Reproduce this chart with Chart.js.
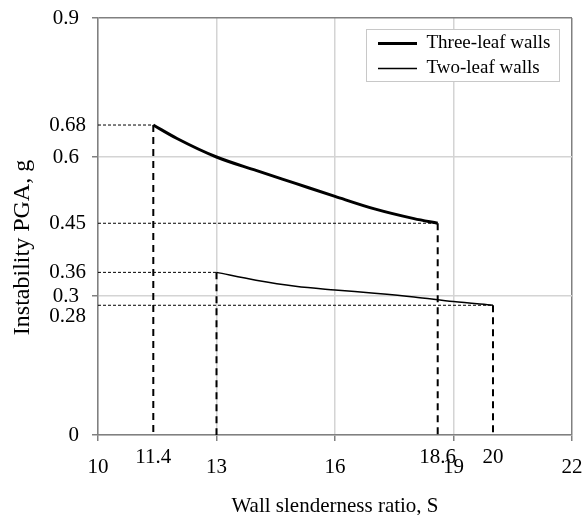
<!DOCTYPE html>
<html>
<head>
<meta charset="utf-8">
<script src="https://cdn.jsdelivr.net/npm/chart.js@4.4.1/dist/chart.umd.min.js"></script>
<style>
  html, body { margin: 0; padding: 0; background: #fff; }
  canvas { display: block; }
</style>
</head>
<body>
<canvas id="pgaChart" width="583" height="515"></canvas>
<script>
// values
const seriesNames = ['Three-leaf walls', 'Two-leaf walls'];
const slendernessThree = [11.4, 12, 13, 14, 15, 16, 17, 18, 18.6];
const pgaThree = [0.669, 0.640, 0.600, 0.571, 0.543, 0.515, 0.488, 0.467, 0.457];
const slendernessTwo = [13, 14, 15, 16, 17, 18, 19, 20];
const pgaTwo = [0.351, 0.334, 0.321, 0.313, 0.306, 0.298, 0.288, 0.280];

const xTicks = [10, 13, 16, 19, 22];
const yTicks = [0, 0.3, 0.6, 0.9];
// printed values for the end points (three start, three end, two start, two end)
const endLabels = ['0.68', '0.45', '0.36', '0.28'];

const FONT = "'Liberation Serif', 'Times New Roman', serif";
const GRID = '#d4d4d4';
const FRAME = '#808080';

const ends = [
    [slendernessThree[0], pgaThree[0]],
    [slendernessThree[slendernessThree.length - 1], pgaThree[pgaThree.length - 1]],
    [slendernessTwo[0], pgaTwo[0]],
    [slendernessTwo[slendernessTwo.length - 1], pgaTwo[pgaTwo.length - 1]]
];
const xNotes = ends.map(e => e[0]).filter(v => !xTicks.includes(v));
const yNotes = ends.map(e => e[1]);

function toPoints(xs, ys) {
    return xs.map((x, i) => ({x: x, y: ys[i]}));
}

const guideSets = [];
ends.forEach(function (e) {
    guideSets.push({
        data: [{x: e[0], y: e[1]}, {x: e[0], y: 0}],
        borderColor: '#000', borderWidth: 2, borderDash: [7, 5], pointRadius: 0
    });
    guideSets.push({
        data: [{x: xTicks[0], y: e[1]}, {x: e[0], y: e[1]}],
        borderColor: '#000', borderWidth: 1, borderDash: [3, 2], pointRadius: 0
    });
});

Chart.defaults.font.family = FONT;
Chart.defaults.font.size = 21;
Chart.defaults.color = '#000';

const frameExtras = {
    id: 'frameExtras',
    afterLayout(chart) {
        const lg = chart.legend;
        const ca = chart.chartArea;
        const w = lg.width;
        lg.left = ca.right - 200;
        lg.right = lg.left + w;
        lg.top = ca.top + 10;
        lg.bottom = lg.top + lg.height;
    },
    afterDraw(chart) {
        const ctx = chart.ctx;
        const ca = chart.chartArea;
        const boxes = chart.legend.legendHitBoxes;
        if (boxes && boxes.length) {
            const l = Math.min(...boxes.map(b => b.left)) - 12.5;
            const t = Math.min(...boxes.map(b => b.top)) - 5;
            const r = Math.max(...boxes.map(b => b.left + b.width)) + 8;
            const b = Math.max(...boxes.map(b => b.top + b.height)) + 3;
            ctx.save();
            ctx.fillStyle = '#fff';
            ctx.fillRect(l, t, r - l, b - t);
            ctx.strokeStyle = '#c8c8c8';
            ctx.lineWidth = 1;
            ctx.strokeRect(Math.round(l) + 0.5, Math.round(t) + 0.5, Math.round(r - l), Math.round(b - t));
            ctx.restore();
            chart.legend.draw();
        }
        // y axis title, sitting a little below the middle as in the figure
        ctx.save();
        ctx.font = '24px ' + FONT;
        ctx.fillStyle = '#000';
        ctx.textAlign = 'center';
        ctx.textBaseline = 'middle';
        ctx.translate(ca.left - 75, (ca.top + ca.bottom) / 2 + 21);
        ctx.rotate(-Math.PI / 2);
        ctx.fillText('Instability PGA, g', 0, 0);
        ctx.restore();
    }
};

new Chart(document.getElementById('pgaChart'), {
    type: 'line',
    data: {
        datasets: [
            {
                label: seriesNames[0],
                data: toPoints(slendernessThree, pgaThree),
                borderColor: '#000', borderWidth: 3, pointRadius: 0,
                cubicInterpolationMode: 'monotone'
            },
            {
                label: seriesNames[1],
                data: toPoints(slendernessTwo, pgaTwo),
                borderColor: '#000', borderWidth: 1.5, pointRadius: 0,
                cubicInterpolationMode: 'monotone'
            }
        ].concat(guideSets)
    },
    options: {
        responsive: false,
        animation: false,
        layout: {padding: {left: 0, right: 11, top: 18, bottom: 0}},
        scales: {
            x: {
                type: 'linear',
                min: xTicks[0],
                max: xTicks[xTicks.length - 1],
                afterBuildTicks: function (scale) {
                    scale.ticks = xTicks.concat(xNotes).sort((a, b) => a - b).map(v => ({value: v}));
                },
                afterFit: function (scale) {
                    scale.height = 80;
                    scale.paddingRight = 0;
                },
                grid: {
                    color: c => c.tick && xTicks.includes(c.tick.value)
                        ? (c.tick.value === xTicks[xTicks.length - 1] ? FRAME : GRID) : 'transparent',
                    tickColor: c => c.tick && xTicks.includes(c.tick.value) ? FRAME : 'transparent',
                    lineWidth: 1.5,
                    tickLength: 6
                },
                border: {color: FRAME, width: 1.5},
                ticks: {
                    autoSkip: false,
                    maxRotation: 0,
                    padding: 6,
                    font: c => ({
                        size: 21,
                        family: FONT,
                        lineHeight: c.tick && xTicks.includes(c.tick.value) ? '40px' : '20px'
                    }),
                    callback: value => String(value)
                },
                title: {
                    display: true,
                    text: 'Wall slenderness ratio, S',
                    font: {size: 21, lineHeight: '18px'},
                    padding: {top: 0, bottom: 0}
                }
            },
            y: {
                min: yTicks[0],
                max: yTicks[yTicks.length - 1],
                afterBuildTicks: function (scale) {
                    scale.ticks = yTicks.concat(yNotes).sort((a, b) => a - b).map(v => ({value: v}));
                },
                afterFit: function (scale) { scale.width = 98; },
                grid: {
                    color: c => c.tick && yTicks.includes(c.tick.value)
                        ? (c.tick.value === yTicks[yTicks.length - 1] ? FRAME : GRID) : 'transparent',
                    tickColor: c => c.tick && yTicks.includes(c.tick.value) ? FRAME : 'transparent',
                    lineWidth: 1.5,
                    tickLength: 6
                },
                border: {color: FRAME, width: 1.5},
                ticks: {
                    autoSkip: false,
                    padding: 6,
                    font: {size: 21, lineHeight: '22px'},
                    callback: function (value) {
                        if (yTicks.includes(value)) return String(value) + '\u2006\u2006';
                        const i = yNotes.indexOf(value);
                        const text = endLabels[i];
                        // push the label down when it would sit on top of a major tick label
                        const crowded = yTicks.some(t => t > value && t - value < 0.03);
                        return crowded ? ['', text] : text;
                    }
                }
            }
        },
        plugins: {
            legend: {
                position: 'chartArea',
                align: 'start',
                labels: {
                    font: {size: 19},
                    padding: 6,
                    usePointStyle: true,
                    pointStyleWidth: 39,
                    generateLabels: chart => chart.data.datasets.slice(0, 2).map((ds, i) => ({
                        text: ds.label,
                        strokeStyle: ds.borderColor,
                        fillStyle: ds.borderColor,
                        lineWidth: ds.borderWidth,
                        pointStyle: 'line',
                        hidden: false,
                        datasetIndex: i
                    }))
                }
            },
            tooltip: {enabled: false}
        }
    },
    plugins: [frameExtras]
});
</script>
</body>
</html>
